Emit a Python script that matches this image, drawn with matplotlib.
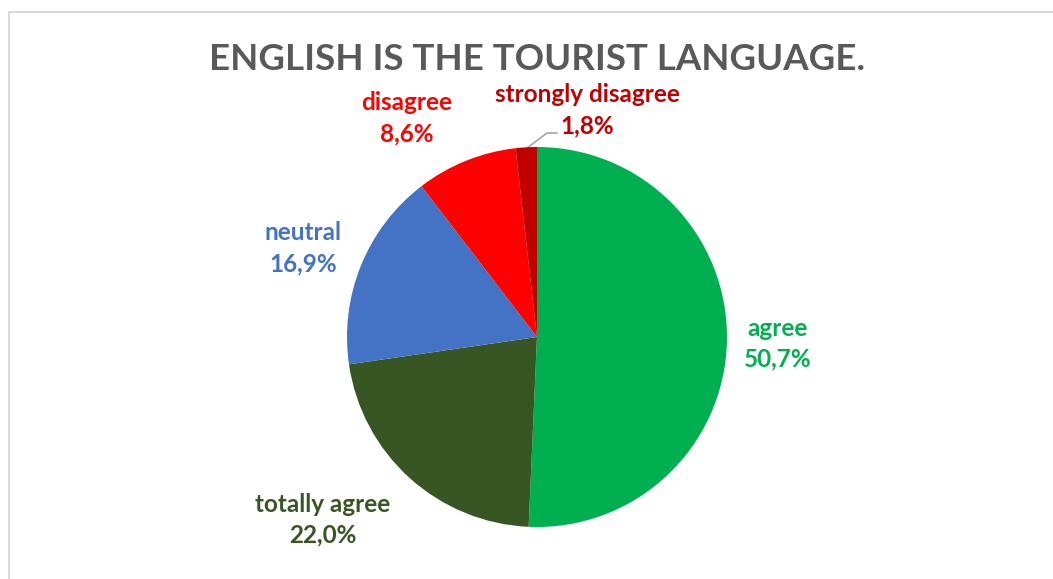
import matplotlib
matplotlib.use("Agg")
import matplotlib.pyplot as plt

# Survey answers, clockwise from 12 o'clock
categories = ["agree", "totally agree", "neutral", "disagree", "strongly disagree"]
shares = [50.7, 22.0, 16.9, 8.6, 1.8]
colors = ["#00B050", "#375623", "#4472C4", "#FF0000", "#C00000"]
title = "ENGLISH IS THE TOURIST LANGUAGE."

W, H = 1053, 579
fig = plt.figure(figsize=(W / 100, H / 100), dpi=100)
ax = fig.add_axes([0, 0, 1, 1])
ax.set_xlim(0, W)
ax.set_ylim(H, 0)
ax.axis("off")

# chart frame (open on right and bottom)
ax.plot([8.5, 8.5, W], [H, 11.5, 11.5], color="#D9D9D9", lw=1.5, solid_capstyle="butt")

# pie in its own equal-aspect axes
cx, cy, r = 537, 337, 190
pax = fig.add_axes([(cx - r) / W, (H - cy - r) / H, 2 * r / W, 2 * r / H])
pax.pie(shares, colors=colors, startangle=90, counterclock=False,
        wedgeprops=dict(linewidth=0))
pax.set_aspect("equal")
pax.set_xlim(-1, 1)
pax.set_ylim(-1, 1)
pax.axis("off")

fam = "Lato"
ax.text(cx, 59, title, ha="center", va="center", fontsize=26.4, fontweight="bold",
        color="#595959", family=fam)

# data label positions (pixel centres of name line)
label_pos = [(778, 328), (323, 504), (303, 233), (407, 103), (587, 95)]
for name, val, col, (lx, ly) in zip(categories, shares, colors, label_pos):
    ax.text(lx, ly, name, ha="center", va="center", fontsize=17.5,
            fontweight="bold", color=col, family=fam)
    ax.text(lx, ly + 31, f"{val:.1f}%".replace(".", ","), ha="center",
            va="center", fontsize=17.5, fontweight="bold", color=col, family=fam)

# leader line for the small slice
ax.plot([527, 547, 557], [148, 133, 133], color="#A6A6A6", lw=1.2)

fig.savefig("out.png", dpi=100)
